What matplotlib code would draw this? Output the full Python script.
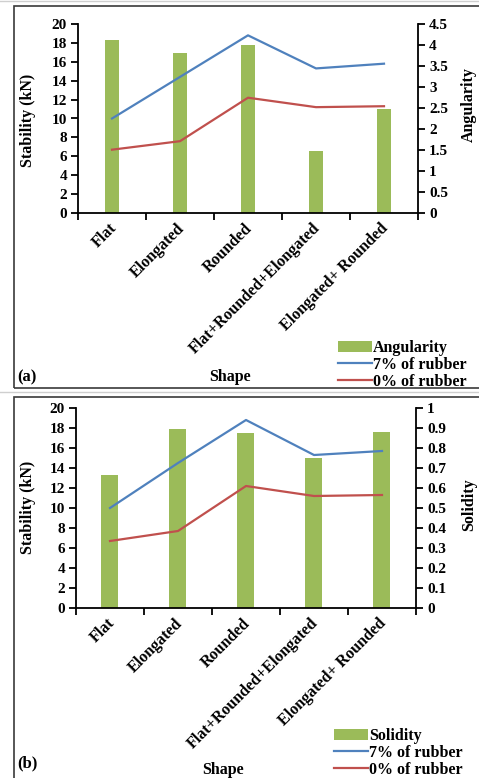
import matplotlib
matplotlib.use("Agg")
import matplotlib.pyplot as plt
import numpy as np
from matplotlib.patches import Rectangle, Patch
from matplotlib.lines import Line2D
from matplotlib.ticker import FuncFormatter
from matplotlib.transforms import ScaledTranslation, blended_transform_factory

W, H = 479, 778
DPI = 100

categories = ["Flat", "Elongated", "Rounded", "Flat+Rounded+Elongated", "Elongated+ Rounded"]

# Panel (a)
angularity = [4.12, 3.80, 3.99, 1.48, 2.48]
rubber7_a = [10.0, 14.4, 18.8, 15.3, 15.8]
rubber0_a = [6.7, 7.6, 12.2, 11.2, 11.3]

# Panel (b)
solidity = [0.667, 0.895, 0.875, 0.751, 0.881]
rubber7_b = [10.0, 14.5, 18.8, 15.3, 15.7]
rubber0_b = [6.7, 7.7, 12.2, 11.2, 11.3]

GREEN = "#9BBB59"
BLUE = "#4F81BD"
RED = "#C0504D"

plt.rcParams["font.family"] = ["Liberation Serif", "DejaVu Serif"]
plt.rcParams["font.weight"] = "bold"

fig = plt.figure(figsize=(W / DPI, H / DPI), dpi=DPI)
fig.patch.set_facecolor("white")


def fx(px):
    return px / W


def fy(py):
    return 1 - py / H


def rect(l, t, r, b):
    return [fx(l), fy(b), (r - l) / W, (b - t) / H]


def panel(axrect, bars, barname, rmax, rstep, l7, l0, bar_w, right_label,
          label_y, tag, tag_y, shape_x, shape_y, leg_x, leg_y, ylab_y):
    ax = fig.add_axes(axrect)
    ax2 = ax.twinx()
    x = np.arange(len(categories))
    ax2.bar(x, bars, width=bar_w, color=GREEN, zorder=1)
    ax.plot(x, l7, color=BLUE, lw=1.6, zorder=3)
    ax.plot(x, l0, color=RED, lw=1.6, zorder=3)
    ax.set_zorder(ax2.get_zorder() + 1)
    ax.patch.set_visible(False)

    ax.set_xlim(-0.5, len(categories) - 0.5)
    ax.set_ylim(0, 20)
    ax.set_yticks(np.arange(0, 21, 2))
    ax2.set_ylim(0, rmax)
    ax2.set_yticks(np.arange(0, rmax + rstep / 2, rstep))
    ax2.yaxis.set_major_formatter(FuncFormatter(lambda v, p: "%g" % round(v, 2)))

    ax.set_xticks(np.arange(-0.5, len(categories), 1))
    ax.set_xticklabels([])
    ax.tick_params(axis="x", length=5, width=1.3, direction="out")
    trans = blended_transform_factory(ax.transData, ax.transAxes) + \
        ScaledTranslation(2 / DPI, -13 / DPI, fig.dpi_scale_trans)
    for xi, c in zip(x, categories):
        ax.text(xi, 0, c, transform=trans, rotation=45, ha="right", va="center",
                rotation_mode="anchor", fontsize=11.5, fontweight="bold")

    ax.tick_params(axis="y", length=5, width=1.3, direction="out", labelsize=11, pad=3)
    ax2.tick_params(axis="y", length=5, width=1.3, direction="out", labelsize=11, pad=3)
    for a in (ax, ax2):
        a.spines["top"].set_visible(False)
        for s in ("left", "right", "bottom"):
            a.spines[s].set_linewidth(1.3)
    ax.spines["right"].set_visible(False)
    ax2.spines["left"].set_visible(False)
    ax2.spines["bottom"].set_visible(False)
    for lab in ax.get_yticklabels() + ax2.get_yticklabels():
        lab.set_fontweight("bold")

    fig.text(fx(28), fy(ylab_y), "Stability (kN)", rotation=90, ha="center",
             va="center", fontsize=11.5, fontweight="bold")
    fig.text(fx(469), fy(label_y), right_label, rotation=90, ha="center",
             va="center", fontsize=11.5, fontweight="bold")
    fig.text(fx(17), fy(tag_y), tag, ha="left", va="center", fontsize=12,
             fontweight="bold")
    fig.text(fx(shape_x), fy(shape_y), "Shape", ha="center", va="center",
             fontsize=11.5, fontweight="bold")

    handles = [Patch(facecolor=GREEN, edgecolor="none"),
               Line2D([], [], color=BLUE, lw=1.6),
               Line2D([], [], color=RED, lw=1.6)]
    labels = [barname, "7% of rubber", "0% of rubber"]
    fig.legend(handles, labels, loc="center left",
               bbox_to_anchor=(fx(leg_x), fy(leg_y)),
               frameon=False, borderpad=0, borderaxespad=0,
               handlelength=2.1, handletextpad=0.1, labelspacing=0.05,
               prop={"family": "Liberation Serif", "weight": "bold", "size": 11.5})
    return ax, ax2


# panel boxes
fig.add_artist(Rectangle((fx(14), fy(388)), (600 - 14) / W, (388 - 6) / H,
                         transform=fig.transFigure, fill=False,
                         edgecolor="#3a3a3a", lw=1.2))
fig.add_artist(Rectangle((fx(14), fy(900)), (600 - 14) / W, (900 - 397) / H,
                         transform=fig.transFigure, fill=False,
                         edgecolor="#3a3a3a", lw=1.2))
fig.add_artist(Line2D([0, 1], [fy(392), fy(392)], transform=fig.transFigure,
                      color="#cfcfcf", lw=1))
fig.add_artist(Line2D([0, 1], [fy(1), fy(1)], transform=fig.transFigure,
                      color="#cfcfcf", lw=1))

panel(rect(78, 24, 418, 213), angularity, "Angularity", 4.5, 0.5,
      rubber7_a, rubber0_a, 0.2, "Angularity", 105, "(a)", 377, 230, 377,
      338, 365, 120)
panel(rect(76, 408, 416, 608), solidity, "Solidity", 1.0, 0.1,
      rubber7_b, rubber0_b, 0.25, "Solidity", 505, "(b)", 763, 223, 770,
      334, 753, 507)

fig.savefig("out.png", dpi=DPI, facecolor="white")
